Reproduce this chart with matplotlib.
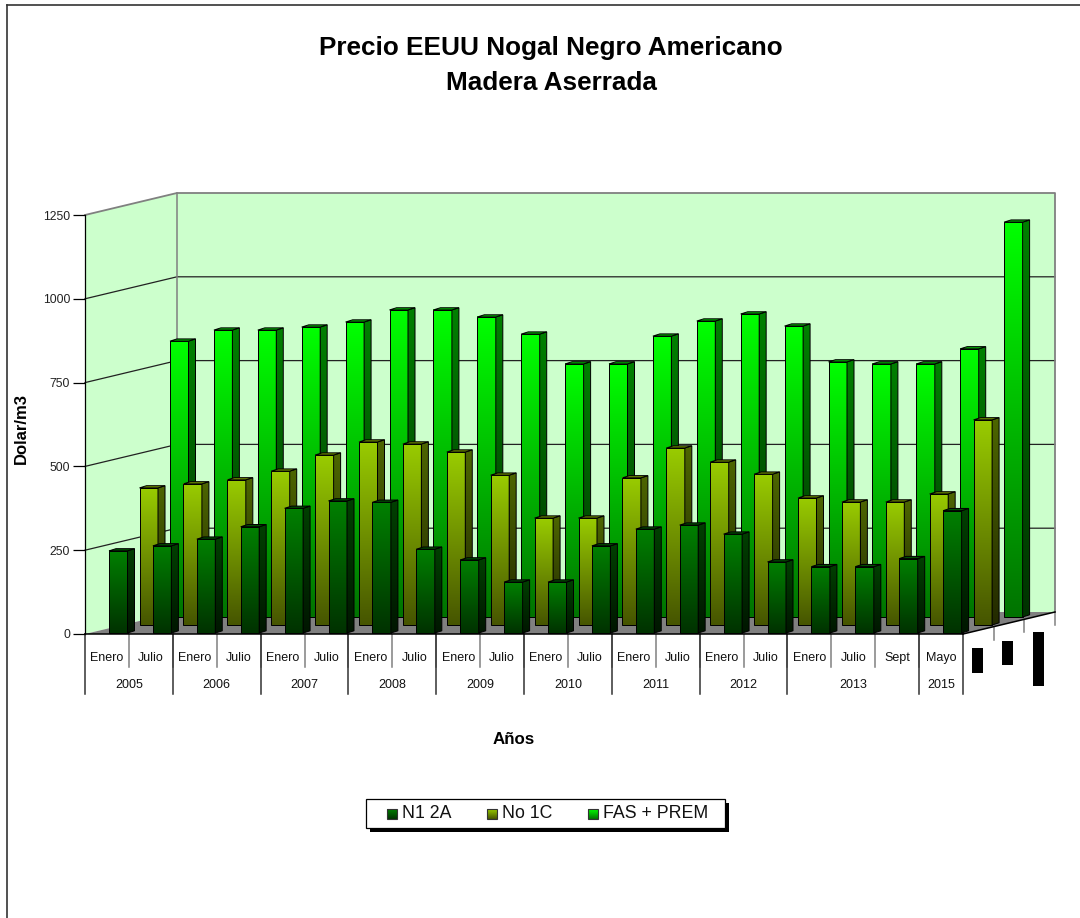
import numpy as np
import matplotlib
matplotlib.use('Agg')
import matplotlib.pyplot as plt
from matplotlib.patches import Polygon, Rectangle

plt.rcParams['font.family'] = ['Liberation Sans', 'DejaVu Sans']

# chart data
meses = ['Enero', 'Julio', 'Enero', 'Julio', 'Enero', 'Julio', 'Enero', 'Julio',
         'Enero', 'Julio', 'Enero', 'Julio', 'Enero', 'Julio', 'Enero', 'Julio',
         'Enero', 'Julio', 'Sept', 'Mayo']
anios = ['2005', '2006', '2007', '2008', '2009', '2010', '2011', '2012', '2013', '2015']
meses_por_anio = [2, 2, 2, 2, 2, 2, 2, 2, 3, 1]

n1_2a = [245, 260, 280, 317, 372, 394, 390, 250, 218, 152,
         152, 260, 310, 322, 295, 212, 198, 198, 222, 365]
no_1c = [409, 421, 433, 459, 507, 546, 540, 516, 447, 319,
         319, 439, 528, 486, 450, 379, 367, 367, 391, 612]
fas_prem = [823, 856, 856, 865, 880, 916, 916, 895, 844, 755,
            755, 838, 883, 904, 868, 761, 755, 755, 800, 1178]

yticks = [0, 250, 500, 750, 1000, 1250]

# geometry of the fake 3D box, in category / value units
n_cat = len(meses)
px_cat = 43.9
px_val = 419 / 1250
depth_x = 92 / px_cat
depth_v = 22 / px_val
bar_w = 18.5 / px_cat
bar_dx = 7 / px_cat
bar_dv = 2.2 / px_val
start = 24 / px_cat
step_x = 30.5 / px_cat
step_v = 8 / px_val
base_v = 3
edge_lw = 0.72

# (front top, front bottom, side top, side bottom, cap)
col_n1 = ((0, 128, 0), (0, 50, 0), (0, 64, 0), (0, 22, 0), (0, 80, 0))
col_no = ((153, 204, 0), (70, 85, 0), (77, 102, 0), (35, 42, 0), (110, 140, 0))
col_fas = ((0, 255, 0), (0, 115, 0), (0, 128, 0), (0, 50, 0), (0, 170, 0))

fig = plt.figure(figsize=(10.8, 9.18), dpi=100)
fig.patch.set_facecolor('white')

ax = fig.add_axes([85 / 1080, (918 - 634) / 918, 975 / 1080, 419 / 918])
ax.patch.set_visible(False)
ax.set_xlim(0, 975 / px_cat)
ax.set_ylim(0, 1250)
for s in ['top', 'right', 'bottom']:
    ax.spines[s].set_visible(False)
ax.spines['left'].set_linewidth(0.9)
ax.spines['left'].set_zorder(3)

ov = fig.add_axes([0, 0, 1, 1], zorder=5)
ov.set_xlim(0, 1080)
ov.set_ylim(918, 0)
ov.axis('off')

# walls and floor
wall = '#CCFFCC'
top = 1250
ax.add_patch(Polygon([(0, 0), (depth_x, depth_v), (depth_x, top + depth_v), (0, top)],
                     fc=wall, ec='none', clip_on=False, zorder=0))
ax.add_patch(Polygon([(depth_x, depth_v), (depth_x + n_cat, depth_v),
                      (depth_x + n_cat, top + depth_v), (depth_x, top + depth_v)],
                     fc=wall, ec='none', clip_on=False, zorder=0))
ax.add_patch(Polygon([(0, 0), (n_cat, 0), (n_cat + depth_x, depth_v), (depth_x, depth_v)],
                     fc='#808080', ec='none', clip_on=False, zorder=0.5))
for v in yticks[1:-1]:
    ax.plot([0, depth_x, depth_x + n_cat], [v, v + depth_v, v + depth_v], color='#222222',
            lw=0.9, clip_on=False, zorder=1)
ax.plot([0, depth_x, depth_x + n_cat, depth_x + n_cat],
        [top, top + depth_v, top + depth_v, depth_v], color='#808080', lw=1.3,
        clip_on=False, zorder=1)
ax.plot([depth_x, depth_x], [depth_v, top + depth_v], color='#808080', lw=1.1,
        clip_on=False, zorder=1)


def gradient(c1, c2):
    g = np.linspace(0, 1, 128)[:, None, None]
    return (np.array(c1)[None, None, :] * (1 - g) + np.array(c2)[None, None, :] * g) / 255


z = 2.0


def draw_bar(x, base, val, cols):
    global z
    t = base + val
    # front
    ax.imshow(gradient(cols[0], cols[1]), extent=(x, x + bar_w, base, t), aspect='auto',
              interpolation='bilinear', origin='upper', zorder=z)
    ax.add_patch(Rectangle((x, base), bar_w, val, fc='none', ec='black', lw=edge_lw, zorder=z + 0.01))
    # side
    side = [(x + bar_w, base), (x + bar_w + bar_dx, base + bar_dv),
            (x + bar_w + bar_dx, t + bar_dv), (x + bar_w, t)]
    p = Polygon(side, fc='none', ec='black', lw=edge_lw, zorder=z + 0.02)
    ax.add_patch(p)
    im2 = ax.imshow(gradient(cols[2], cols[3]),
                    extent=(x + bar_w, x + bar_w + bar_dx, base, t + bar_dv), aspect='auto',
                    interpolation='bilinear', origin='upper', zorder=z + 0.015)
    im2.set_clip_path(p)
    # cap
    ax.add_patch(Polygon([(x, t), (x + bar_dx, t + bar_dv), (x + bar_w + bar_dx, t + bar_dv),
                          (x + bar_w, t)], fc=tuple(c / 255 for c in cols[4]),
                         ec='black', lw=edge_lw, zorder=z + 0.03))
    z += 0.1


series = [(fas_prem, col_fas, 2), (no_1c, col_no, 1), (n1_2a, col_n1, 0)]
for vals, cols, k in series:
    for i, v in enumerate(vals):
        draw_bar(i + start + k * step_x, base_v + k * step_v, v, cols)

ax.set_xlim(0, 975 / px_cat)
ax.set_ylim(0, 1250)

# value axis
ax.set_yticks(yticks)
ax.tick_params(axis='y', length=8.6, width=0.9, pad=2, labelsize=8.7, labelcolor='#222222')

# category axis: two levels of labels with separators
centers = np.arange(n_cat) + 0.5
ax.set_xticks(centers, meses)
ax.tick_params(axis='x', length=0, pad=13, labelsize=9, labelcolor='#111111')
ax.plot([0, n_cat], [0, 0], color='black', lw=1.1, clip_on=False, zorder=100)
px = 1 / px_val
for i in range(1, n_cat):
    ax.plot([i, i], [0, -33 * px], color='#808080', lw=1.1, clip_on=False, zorder=1)
pos = 0
ax.plot([0, 0], [0, -60 * px], color='#333333', lw=1.1, clip_on=False, zorder=1)
for a, n in zip(anios, meses_por_anio):
    ax.text(pos + n / 2, -51 * px, a, ha='center', va='center', fontsize=9, color='#111111')
    pos += n
    ax.plot([pos, pos], [0, -60 * px], color='#333333', lw=1.1, clip_on=False, zorder=1)

# depth axis on the floor's right edge
ax.plot([n_cat, n_cat + depth_x], [0, depth_v], color='black', lw=1.1, clip_on=False, zorder=100)
for k in range(1, 4):
    x = n_cat + k * depth_x / 3
    v = k * depth_v / 3
    ax.plot([x, x], [v, v - 13 * px], color='#808080', lw=1.1, clip_on=False, zorder=1)

# series names of the depth axis come out as black blocks in the original
for x0, y0, h in [(972, 648, 25), (1002, 641, 24), (1033, 632, 54)]:
    ov.add_patch(Rectangle((x0, y0), 11, h, fc='black', ec='none'))

# titles
ov.text(551, 48.5, 'Precio EEUU Nogal Negro Americano', ha='center', va='center',
        fontsize=18.8, fontweight='bold')
ov.text(551, 83.5, 'Madera Aserrada', ha='center', va='center', fontsize=18.8, fontweight='bold')
ov.text(21, 428, 'Dolar/m3', rotation=90, ha='center', va='center', fontsize=12, fontweight='bold')
ov.text(514, 739.5, 'Años', ha='center', va='center', fontsize=12.2, fontweight='bold')

# legend
ov.add_patch(Rectangle((370, 803), 359, 29, fc='black', ec='none'))
ov.add_patch(Rectangle((366, 799), 359, 29, fc='white', ec='black', lw=0.9))
for x0, name, cols in [(387, 'N1 2A', col_n1), (487, 'No 1C', col_no), (588, 'FAS + PREM', col_fas)]:
    ov.imshow(gradient(cols[0], cols[1]), extent=(x0, x0 + 10, 819, 809), aspect='auto',
              interpolation='bilinear', origin='upper', zorder=3)
    ov.add_patch(Rectangle((x0, 809), 10, 10, fc='none', ec='#333333', lw=0.8, zorder=4))
    ov.text(x0 + 15, 813.5, name, ha='left', va='center', fontsize=12.8, color='#111111', zorder=4)
ov.set_xlim(0, 1080)
ov.set_ylim(918, 0)

# outer frame
ov.plot([7, 7], [4.5, 918], color='#333333', lw=1.2)
ov.plot([7, 1080], [4.5, 4.5], color='#333333', lw=1.2)

fig.savefig('out.png', dpi=100)
